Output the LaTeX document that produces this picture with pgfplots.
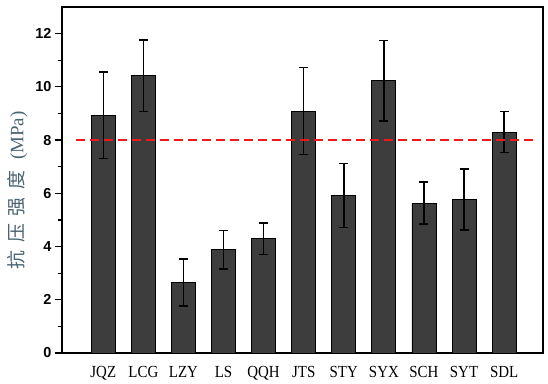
\documentclass[border=0pt]{standalone}
\usepackage{fontspec}
\setmainfont{Liberation Serif}
\setsansfont{Liberation Sans}
\newfontfamily\cjk{Noto Sans CJK SC}
\usepackage{pgfplots}
\usepackage{pgfplotstable}
\pgfplotsset{compat=1.18}
\definecolor{barfill}{HTML}{3D3D3D}
\definecolor{labcol}{HTML}{4A6472}
\definecolor{refred}{HTML}{F01818}
\pgfplotstableread{
x y err
0 8.93 1.63
1 10.42 1.34
2 2.65 0.88
3 3.88 0.73
4 4.29 0.59
5 9.09 1.63
6 5.92 1.20
7 10.23 1.52
8 5.63 0.79
9 5.77 1.15
10 8.30 0.77
}\strength
\begin{document}
\begin{tikzpicture}
\begin{axis}[
  scale only axis,
  width=481bp, height=346bp,
  xmin=-1.03, xmax=10.97,
  ymin=0, ymax=13,
  axis line style={line width=1.2pt},
  xtick={0,...,10},
  xticklabels={JQZ,LCG,LZY,LS,QQH,JTS,STY,SYX,SCH,SYT,SDL},
  xtick style={draw=none},
  xticklabel style={font=\fontsize{17}{19}\selectfont, xscale=0.88, yshift=-3bp},
  ytick={0,2,...,12},
  minor ytick={1,3,...,11},
  ytick pos=left,
  tick align=outside,
  major tick length=7bp,
  minor tick length=4bp,
  ytick style={line width=1.2pt, black},
  minor tick style={line width=1.2pt, black},
  yticklabel style={font=\fontsize{14.5}{16}\selectfont\sffamily\bfseries},
  /pgf/number format/assume math mode=true,
  every axis y label/.style={at={(axis description cs:-0.093,0.47)}, rotate=90, anchor=center},
  ylabel={\color{labcol}\fontsize{19}{21}\selectfont\cjk 抗\hspace{0.4em}压\hspace{0.4em}强\hspace{0.4em}度\hspace{0.6em}\fontsize{19}{21}\selectfont\rmfamily(MPa)},
]
\addplot[ybar, bar width=24bp, fill=barfill, draw=black, line width=0.8pt,
  error bars/.cd, y dir=both, y explicit,
  error bar style={line width=1.5pt, black},
  error mark options={rotate=90, mark size=4.5bp, line width=1.5pt, black}]
  table[x=x, y=y, y error=err] {\strength};
\addplot[refred, line width=1.8pt, dash pattern=on 9bp off 5bp, sharp plot, mark=none]
  coordinates {(-0.68,8) (10.73,8)};
\end{axis}
\path (current axis.south west) ++(-62bp,-29bp) coordinate (bbA);
\path (current axis.north east) ++(5bp,7bp) coordinate (bbB);
\path[use as bounding box] (bbA) rectangle (bbB);
\end{tikzpicture}
\end{document}
